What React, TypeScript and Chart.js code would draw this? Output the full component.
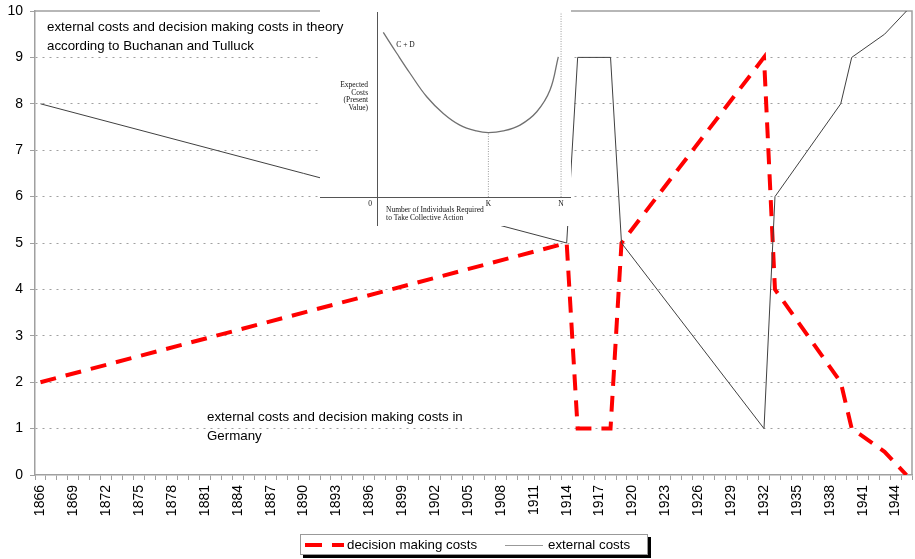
import React, { useEffect, useRef } from 'react';
import { Chart, registerables } from 'chart.js';

Chart.register(...registerables);

// ---------- main chart data ----------
const FIRST_YEAR = 1866;
const LAST_YEAR = 1945;
const years: string[] = [];
for (let y = FIRST_YEAR; y <= LAST_YEAR; y++) years.push(String(y));

const pointYears = [1866, 1914, 1915, 1918, 1919, 1932, 1933, 1939, 1940, 1943, 1945];
const decisionCosts = [2, 5, 1, 1, 5, 9, 4, 2, 1, 0.5, 0];
const externalCosts = [8, 5, 9, 9, 5, 1, 6, 8, 9, 9.5, 10];

const Y_MIN = 0;
const Y_MAX = 10;
const LABEL_EVERY = 3;

const legendLabels = ['decision making costs', 'external costs'];
const noteTheory = ['external costs and decision making costs in theory', 'according to Buchanan and Tulluck'];
const noteGermany = ['external costs and decision making costs in', 'Germany'];

// ---------- inset (Buchanan & Tullock diagram) data ----------
const insetCurveX = [3.4, 10.7, 17.9, 27, 36, 45, 54, 60.5, 68.6, 77.7, 86.8, 94, 98.5];
const insetCurveY = [89, 77.7, 66.9, 54.2, 45.2, 38.9, 35.7, 34.8, 35.7, 38.9, 46.1, 57.8, 75.8];
const insetK = 60.5;
const insetKCost = 34.8;
const insetN = 100;
const insetTop = 100;
const insetYTitle = ['Expected', 'Costs', '(Present', 'Value)'];
const insetXTitle = ['Number of Individuals Required', 'to Take Collective Action'];

const SANS = 'Liberation Sans, Arial, sans-serif';
const SERIF = 'Liberation Serif, "Times New Roman", serif';
const AXIS_GRAY = '#a0a0a0';

const framePlugin = {
  id: 'frame',
  beforeDatasetsDraw(chart: any) {
    const { ctx, chartArea } = chart;
    ctx.save();
    ctx.strokeStyle = AXIS_GRAY;
    ctx.lineWidth = 1.5;
    ctx.beginPath();
    ctx.moveTo(chartArea.left, chartArea.top);
    ctx.lineTo(chartArea.right, chartArea.top);
    ctx.lineTo(chartArea.right, chartArea.bottom);
    ctx.stroke();
    ctx.restore();
  },
};

const insetTextPlugin = {
  id: 'insetText',
  afterDraw(chart: any) {
    const { ctx } = chart;
    const xs = chart.scales.x;
    const ys = chart.scales.y;
    const x0 = xs.getPixelForValue(0);
    const y0 = ys.getPixelForValue(0);
    ctx.save();
    ctx.fillStyle = '#111';
    ctx.font = `7.5px ${SERIF}`;
    ctx.textBaseline = 'middle';
    // C + D label near the curve
    ctx.textAlign = 'left';
    ctx.fillText('C + D', xs.getPixelForValue(10.5), ys.getPixelForValue(82));
    // y title
    ctx.textAlign = 'right';
    insetYTitle.forEach((t, i) => ctx.fillText(t, x0 - 9, ys.getPixelForValue(60.5) + i * 7.7));
    // axis tick letters
    ctx.textAlign = 'center';
    ctx.fillText('0', x0 - 7, y0 + 7);
    ctx.fillText('K', xs.getPixelForValue(insetK), y0 + 7);
    ctx.fillText('N', xs.getPixelForValue(insetN), y0 + 7);
    // x title
    ctx.textAlign = 'left';
    insetXTitle.forEach((t, i) => ctx.fillText(t, x0 + 9, y0 + 13 + i * 7.5));
    ctx.restore();
  },
};

export default function App() {
  const mainRef = useRef<HTMLCanvasElement>(null);
  const insetRef = useRef<HTMLCanvasElement>(null);

  useEffect(() => {
    const main = new Chart(mainRef.current as HTMLCanvasElement, {
      type: 'line',
      data: {
        labels: years,
        datasets: [
          {
            label: legendLabels[0],
            data: pointYears.map((yr, i) => ({ x: String(yr), y: decisionCosts[i] })) as any,
            borderColor: '#ff0000',
            borderWidth: 4,
            borderDash: [16, 10],
            borderCapStyle: 'butt',
            pointRadius: 0,
            tension: 0,
            order: 2,
          },
          {
            label: legendLabels[1],
            data: pointYears.map((yr, i) => ({ x: String(yr), y: externalCosts[i] })) as any,
            borderColor: '#404040',
            borderWidth: 1,
            pointRadius: 0,
            tension: 0,
            order: 1,
          },
        ],
      },
      options: {
        responsive: false,
        animation: false,
        devicePixelRatio: 1,
        layout: { padding: { top: 11, right: 3, left: 0, bottom: 0 } },
        plugins: { legend: { display: false }, tooltip: { enabled: false }, title: { display: false } },
        scales: {
          x: {
            type: 'category',
            offset: true,
            grid: {
              offset: true,
              drawOnChartArea: false,
              drawTicks: true,
              tickLength: 5,
              tickColor: AXIS_GRAY,
              tickWidth: 1,
            },
            border: { color: AXIS_GRAY, width: 1.5 },
            ticks: {
              autoSkip: false,
              minRotation: 90,
              maxRotation: 90,
              padding: 5,
              color: '#000',
              font: { family: SANS, size: 14 },
              callback: (_v: any, i: number) => (i % LABEL_EVERY === 0 ? years[i] : ''),
            },
            afterFit: (s: any) => {
              s.height = 84;
              s.paddingLeft = 0;
              s.paddingRight = 0;
            },
          },
          y: {
            min: Y_MIN,
            max: Y_MAX,
            grid: {
              color: (ctx: any) =>
                ctx.tick && (ctx.tick.value === Y_MIN || ctx.tick.value === Y_MAX) ? 'rgba(0,0,0,0)' : AXIS_GRAY,
              lineWidth: 1,
              tickLength: 5,
              tickColor: AXIS_GRAY,
              tickWidth: 1,
              tickBorderDash: [],
            },
            border: { color: AXIS_GRAY, width: 1.5, dash: [2, 5] },
            ticks: {
              stepSize: 1,
              padding: 7,
              color: '#000',
              font: { family: SANS, size: 14 },
            },
            afterFit: (s: any) => {
              s.width = 35;
              s.paddingTop = 0;
              s.paddingBottom = 0;
            },
          },
        },
      } as any,
      plugins: [framePlugin],
    });

    const inset = new Chart(insetRef.current as HTMLCanvasElement, {
      type: 'line',
      data: {
        datasets: [
          {
            data: insetCurveX.map((x, i) => ({ x, y: insetCurveY[i] })),
            borderColor: '#707070',
            borderWidth: 1.3,
            pointRadius: 0,
            tension: 0.4,
          },
          {
            data: [
              { x: insetK, y: 0 },
              { x: insetK, y: insetKCost },
            ],
            borderColor: '#9a9a9a',
            borderWidth: 1,
            borderDash: [1, 1.5],
            pointRadius: 0,
          },
          {
            data: [
              { x: insetN, y: 0 },
              { x: insetN, y: insetTop },
            ],
            borderColor: '#9a9a9a',
            borderWidth: 1,
            borderDash: [1, 1.5],
            pointRadius: 0,
          },
        ],
      },
      options: {
        responsive: false,
        animation: false,
        devicePixelRatio: 1,
        layout: { padding: { top: 12, bottom: 1, left: 0, right: 0 } },
        plugins: { legend: { display: false }, tooltip: { enabled: false } },
        scales: {
          x: {
            type: 'linear',
            position: { y: 0 },
            min: -31,
            max: 105.4,
            grid: { display: false, drawTicks: false },
            ticks: { display: false },
            border: { color: '#555', width: 1 },
          },
          y: {
            type: 'linear',
            position: { x: 0 },
            min: -15.1,
            max: insetTop,
            grid: { display: false, drawTicks: false },
            ticks: { display: false },
            border: { color: '#555', width: 1 },
          },
        },
      } as any,
      plugins: [insetTextPlugin],
    });

    return () => {
      main.destroy();
      inset.destroy();
    };
  }, []);

  const noteStyle: React.CSSProperties = {
    position: 'absolute',
    fontFamily: SANS,
    fontSize: '13.3px',
    lineHeight: '18.5px',
    color: '#000',
    whiteSpace: 'nowrap',
  };

  return (
    <div style={{ position: 'fixed', left: 0, top: 0, width: 915, height: 559, background: '#fff', overflow: 'hidden' }}>
      <canvas
        ref={mainRef}
        width={915}
        height={559}
        style={{ position: 'absolute', left: 0, top: 0, width: 915, height: 559 }}
      />
      <canvas
        ref={insetRef}
        width={251}
        height={226}
        style={{ position: 'absolute', left: 320, top: 0, width: 251, height: 226, background: '#fff' }}
      />
      <div style={{ ...noteStyle, left: 47, top: 18 }}>
        {noteTheory[0]}
        <br />
        {noteTheory[1]}
      </div>
      <div style={{ ...noteStyle, left: 207, top: 408 }}>
        {noteGermany[0]}
        <br />
        {noteGermany[1]}
      </div>
      <div
        style={{
          position: 'absolute',
          left: 300,
          top: 534,
          width: 346,
          height: 19,
          border: '1px solid #999',
          boxShadow: '3px 3px 0 #000',
          background: '#fff',
          fontFamily: SANS,
          fontSize: '13.3px',
          color: '#000',
        }}
      >
        <span style={{ position: 'absolute', left: 4, top: 8, width: 17, height: 4, background: '#ff0000' }} />
        <span style={{ position: 'absolute', left: 31, top: 8, width: 12, height: 4, background: '#ff0000' }} />
        <span style={{ position: 'absolute', left: 46, top: 0, lineHeight: '19px', whiteSpace: 'nowrap' }}>
          {legendLabels[0]}
        </span>
        <span style={{ position: 'absolute', left: 204, top: 10, width: 38, height: 1, background: '#999' }} />
        <span style={{ position: 'absolute', left: 247, top: 0, lineHeight: '19px', whiteSpace: 'nowrap' }}>
          {legendLabels[1]}
        </span>
      </div>
    </div>
  );
}
